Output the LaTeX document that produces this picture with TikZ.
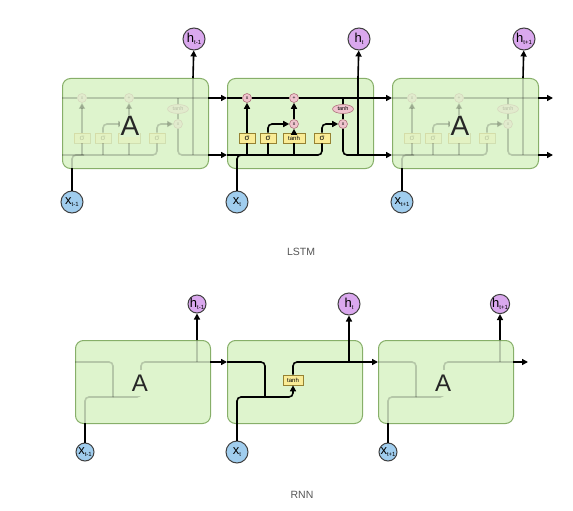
\documentclass[tikz,border=0pt]{standalone}
\usepackage{fontspec}
\setmainfont{Liberation Sans}
\usetikzlibrary{arrows.meta, positioning, calc, shapes.geometric}
\definecolor{cellgreen}{RGB}{222,244,205}
\definecolor{celledge}{RGB}{135,175,105}
\definecolor{inblue}{RGB}{160,205,238}
\definecolor{outviolet}{RGB}{218,168,238}
\definecolor{gateyellow}{RGB}{250,236,150}
\definecolor{gateedge}{RGB}{150,130,50}
\definecolor{oppink}{RGB}{240,196,206}
\definecolor{opedge}{RGB}{175,115,125}
\definecolor{capgray}{RGB}{85,85,85}
\newcommand{\veclab}[2]{#1\raisebox{-1.5pt}{\fontsize{6}{6}\selectfont#2}}

\begin{document}
\begin{tikzpicture}[x=1pt, y=-1pt,
  cellbox/.style={draw=celledge, fill=cellgreen, line width=1pt, rounded corners=8pt, anchor=north west},
  gatebox/.style={draw=gateedge, fill=gateyellow, line width=0.7pt, inner sep=0pt, minimum height=10pt, minimum width=16pt, font=\fontsize{8}{8}\selectfont},
  pointop/.style={circle, draw=opedge, fill=oppink, line width=0.6pt, inner sep=0pt, minimum size=9pt, font=\fontsize{5}{5}\selectfont},
  tanhop/.style={ellipse, draw=opedge, fill=oppink, line width=0.6pt, inner sep=0pt, minimum width=21pt, minimum height=9pt, font=\fontsize{5.5}{5.5}\selectfont},
  invec/.style={circle, draw=black!75, fill=inblue, line width=1pt, inner sep=0pt, minimum size=22pt, font=\fontsize{13}{13}\selectfont},
  outvec/.style={invec, fill=outviolet},
  conn/.style={line width=1.6pt, rounded corners=4pt},
  flow/.style={conn, -{Triangle[length=6pt, width=6pt]}},
  bigA/.style={text=black!85, fill=cellgreen, inner sep=1pt},
  caption/.style={text=capgray, font=\fontsize{10.5}{12}\selectfont}
]
\useasboundingbox (0,0) rectangle (573,511);

% LSTM chain, outer cells faded (their middle part sits under the A)
\foreach \i/\ox/\sub in {1/62/t-1, 2/227/t, 3/392/t+1} {
  \ifnum\i=2 \def\op{1}\def\mx{x}\def\mt{tanh}\else\def\op{0.18}\def\mx{}\def\mt{}\fi
  \begin{scope}[shift={(\ox,78)}]
    \node[cellbox, minimum width=146pt, minimum height=90pt] (lbox\i) at (0,0) {};
    \coordinate (tl\i) at (0,20); \coordinate (tr\i) at (146,20);
    \coordinate (bl\i) at (0,77); \coordinate (br\i) at (146,77);
    \coordinate (xa\i) at (10,90); \coordinate (ha\i) at (131,0);
    \begin{scope}[opacity=\op]
      \node[pointop] (fx\i) at (20,20) {x};
      \node[pointop] (ad\i) at (67,20) {+};
      \node[pointop] (ix\i) at (67,46) {\mx};
      \node[tanhop] (ct\i) at (116,31) {tanh};
      \node[pointop] (ox\i) at (116,46) {x};
      \node[gatebox] (sf\i) at (20,60) {σ};
      \node[gatebox] (si\i) at (41,60) {σ};
      \node[gatebox, minimum width=22pt, font=\fontsize{6}{6}\selectfont] (tg\i) at (67,60) {\mt};
      \node[gatebox] (so\i) at (95,60) {σ};
      \draw[conn] (tl\i) -- (fx\i) -- (ad\i) -- (tr\i);
      \draw[conn] (bl\i) -| (so\i);
      \draw[conn] (xa\i) |- (22,77);
      \foreach \g in {sf,si,tg} \draw[conn] (\g\i.south) -- (\g\i.south |- bl\i);
      \draw[flow] (sf\i) -- (fx\i);
      \draw[flow] (si\i) |- (ix\i);
      \draw[flow] (tg\i) -- (ix\i);
      \draw[flow] (ix\i) -- (ad\i);
      \draw[flow] (so\i) |- (ox\i);
      \draw[conn] (ct\i.north |- tl\i) -- (ct\i) -- (ox\i);
      \draw[conn] (ox\i) |- (br\i);
      \draw[conn] (131,77) -- (ha\i);
    \end{scope}
    \ifnum\i=2 \else \node[bigA, font=\fontsize{28}{28}\selectfont] (la\i) at (68,48) {A}; \fi
    \node[invec] (lx\i) at (10,124) {\veclab{x}{\sub}};
    \node[outvec] (lh\i) at (132,-39) {\veclab{h}{\sub}};
    \draw[conn] (lx\i) -- (xa\i);
    \draw[flow] (ha\i) -- (lh\i);
  \end{scope}
}
\coordinate (lendt) at (553,98);
\coordinate (lendb) at (553,155);
\draw[flow] (tr1) -- (tl2);
\draw[flow] (br1) -- (bl2);
\draw[flow] (tr2) -- (tl3);
\draw[flow] (br2) -- (bl3);
\draw[flow] (tr3) -- (lendt);
\draw[flow] (br3) -- (lendb);
\node[caption] (lstmcap) at (301,252) {LSTM};

% RNN chain
\foreach \i/\ox/\sub/\sz in {1/75/t-1/18, 2/227/t/22, 3/378/t+1/18} {
  \ifnum\i=2 \def\op{1}\def\mt{tanh}\else\def\op{0.18}\def\mt{}\fi
  \begin{scope}[shift={(\ox,340)}]
    \node[cellbox, minimum width=135pt, minimum height=83pt] (rbox\i) at (0,0) {};
    \coordinate (rl\i) at (0,22); \coordinate (rr\i) at (135,22);
    \coordinate (mg\i) at (38,57); \coordinate (rxa\i) at (10,83);
    \coordinate (rha\i) at (122,0); \coordinate (rhb\i) at (122,22);
    \begin{scope}[opacity=\op]
      \node[gatebox, minimum width=20pt, font=\fontsize{6}{6}\selectfont] (rt\i) at (66,40) {\mt};
      \draw[conn] (rl\i) -| (mg\i);
      \draw[conn] (rxa\i) |- (mg\i);
      \draw[flow] (mg\i) -| (rt\i);
      \draw[conn] (rt\i) |- (rr\i);
      \draw[conn] (rhb\i) -- (rha\i);
    \end{scope}
    \ifnum\i=2 \else \node[bigA, font=\fontsize{24}{24}\selectfont, minimum width=28pt, minimum height=26pt] (ra\i) at (65,43) {A}; \fi
    \node[invec, minimum size=\sz pt] (rx\i) at (10,112) {\veclab{x}{\sub}};
    \node[outvec, minimum size=\sz pt] (rh\i) at (122,-36) {\veclab{h}{\sub}};
    \draw[conn] (rx\i) -- (rxa\i);
    \draw[flow] (rha\i) -- (rh\i);
  \end{scope}
}
\coordinate (rend) at (528,362);
\draw[flow] (rr1) -- (rl2);
\draw[flow] (rr2) -- (rl3);
\draw[flow] (rr3) -- (rend);
\node[caption] (rnncap) at (302,495) {RNN};
\end{tikzpicture}
\end{document}
